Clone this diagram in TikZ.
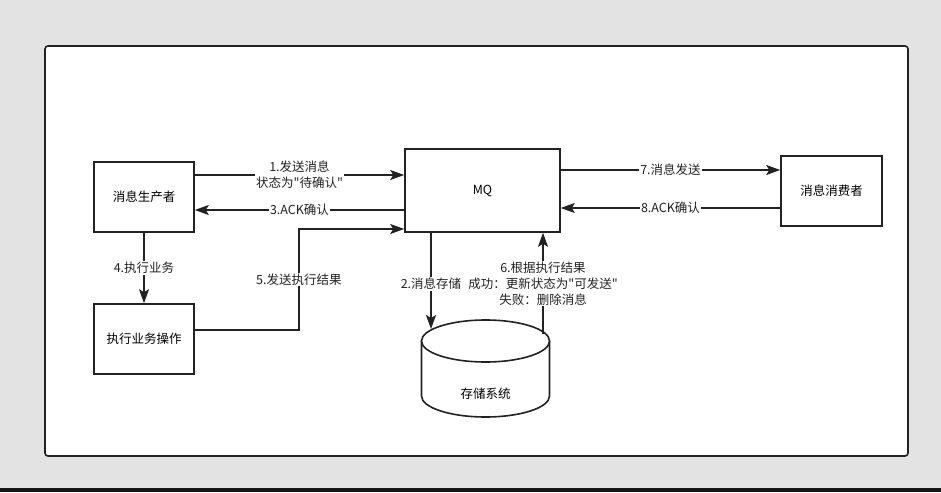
\documentclass[tikz,border=0pt]{standalone}
\usepackage{fontspec}
\setmainfont{Noto Sans CJK SC}[Ligatures=TeXOff]
\usetikzlibrary{arrows.meta}
\usepackage{xcolor}
\definecolor{bggray}{RGB}{227,227,227}
\definecolor{lnc}{RGB}{34,34,34}

\begin{document}
\begin{tikzpicture}[x=1pt, y=-1pt,
  box/.style={draw=lnc, line width=1.6pt, fill=white, minimum width=100pt,
  minimum height=70pt, font=\fontsize{12.5}{15}\selectfont},
  arr/.style={-{Stealth[length=14pt,width=10pt,inset=3pt]}, line width=1.6pt, lnc},
  lbl/.style={fill=white, inner sep=1pt, align=center, font=\fontsize{12.5}{16}\selectfont}
]
\useasboundingbox (0,0) rectangle (941,492);
\fill[bggray] (0,0) rectangle (941,492);
\fill[black!92] (0,488) rectangle (941,492);
\draw[lnc, line width=1.6pt, fill=white, rounded corners=3pt] (45,46) rectangle (908,456);

\node[box] (prod) at (144,197) {消息生产者};
\node[box] (exec) at (144,339) {执行业务操作};
\node[box, minimum width=155pt, minimum height=83pt] (mq) at (482.5,190.5) {MQ};
\node[box, minimum width=101pt] (cons) at (831.5,191) {消息消费者};

% storage cylinder
\draw[lnc, line width=1.6pt, fill=white] (421.5,341) -- (421.5,396)
  arc[start angle=180, end angle=360, x radius=64pt, y radius=21pt] -- (549.5,341);
\draw[lnc, line width=1.6pt, fill=white] (485.5,341) ellipse[x radius=64pt, y radius=21pt];
\node[font=\fontsize{12.5}{15}\selectfont] (db) at (485.5,394) {存储系统};
\coordinate (db2) at (431,329);
\coordinate (db6) at (543,334);

\draw[arr] ([yshift=22pt]prod.east) -- node[lbl] {1.发送消息\\状态为"待确认"} ([yshift=22pt]prod.east -| mq.west);
\draw[arr] ([yshift=-13pt]prod.east -| mq.west) -- node[lbl] {3.ACK确认} ([yshift=-13pt]prod.east);
\draw[arr] (prod) -- node[lbl] {4.执行业务} (exec);
\draw[arr] ([yshift=9pt]exec.east) -- ++(104,0) |- node[lbl, pos=0.25] {5.发送执行结果} ([yshift=-38.5pt]mq.west);
\draw[arr] ([xshift=-51.5pt]mq.south) -- node[lbl, pos=0.53] {2.消息存储} (db2);
\draw[arr] (db6) -- node[lbl] {6.根据执行结果\\成功：更新状态为"可发送"\\失败：删除消息} ([xshift=60.5pt]mq.south);
\draw[arr] ([yshift=21pt]cons.west -| mq.east) -- node[lbl] {7.消息发送} ([yshift=21pt]cons.west);
\draw[arr] ([yshift=-17pt]cons.west) -- node[lbl] {8.ACK确认} ([yshift=-17pt]cons.west -| mq.east);
\end{tikzpicture}
\end{document}
